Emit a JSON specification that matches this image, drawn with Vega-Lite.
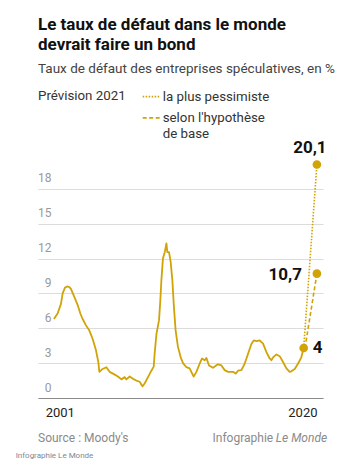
{
  "$schema": "https://vega.github.io/schema/vega-lite/v6.json",
  "autosize": "none",
  "width": 285,
  "height": 244,
  "padding": {"left": 38, "top": 154, "right": 35, "bottom": 70},
  "background": "white",
  "config": {
    "font": "Roboto",
    "view": {"stroke": null}
  },
  "title": {
    "text": ["Le taux de défaut dans le monde", "devrait faire un bond"],
    "subtitle": "Taux de défaut des entreprises spéculatives, en %",
    "anchor": "start",
    "frame": "group",
    "fontSize": 17,
    "fontWeight": "bold",
    "color": "#111111",
    "lineHeight": 20,
    "subtitleFontSize": 13.5,
    "subtitleColor": "#444444",
    "subtitlePadding": 8,
    "offset": 12
  },
  "datasets": {
    "hist": [
      {"t": 2001.00, "v": 6.8}, {"t": 2001.29, "v": 7.3}, {"t": 2001.54, "v": 8.1}, {"t": 2001.67, "v": 9.0},
      {"t": 2001.85, "v": 9.5}, {"t": 2002.02, "v": 9.6}, {"t": 2002.19, "v": 9.55}, {"t": 2002.31, "v": 9.4},
      {"t": 2002.57, "v": 8.7}, {"t": 2002.83, "v": 8.0}, {"t": 2003.04, "v": 7.25}, {"t": 2003.21, "v": 6.8},
      {"t": 2003.47, "v": 6.25}, {"t": 2003.73, "v": 5.8}, {"t": 2003.98, "v": 5.1}, {"t": 2004.24, "v": 4.1},
      {"t": 2004.42, "v": 3.1}, {"t": 2004.50, "v": 2.25}, {"t": 2004.75, "v": 2.5}, {"t": 2005.04, "v": 2.65},
      {"t": 2005.29, "v": 2.25}, {"t": 2005.55, "v": 2.1}, {"t": 2005.93, "v": 1.85}, {"t": 2006.20, "v": 1.6},
      {"t": 2006.45, "v": 1.8}, {"t": 2006.58, "v": 1.6}, {"t": 2006.84, "v": 1.85}, {"t": 2007.09, "v": 1.65},
      {"t": 2007.35, "v": 1.5}, {"t": 2007.61, "v": 1.4}, {"t": 2007.82, "v": 1.0}, {"t": 2007.99, "v": 1.25},
      {"t": 2008.25, "v": 1.8}, {"t": 2008.51, "v": 2.35}, {"t": 2008.69, "v": 2.7}, {"t": 2008.76, "v": 3.8},
      {"t": 2008.90, "v": 5.5}, {"t": 2009.10, "v": 6.7}, {"t": 2009.20, "v": 8.4}, {"t": 2009.28, "v": 10.1},
      {"t": 2009.40, "v": 12.0}, {"t": 2009.54, "v": 12.55}, {"t": 2009.67, "v": 13.3}, {"t": 2009.74, "v": 12.55},
      {"t": 2009.87, "v": 12.55}, {"t": 2010.00, "v": 11.7}, {"t": 2010.13, "v": 10.1}, {"t": 2010.25, "v": 7.8},
      {"t": 2010.38, "v": 5.8}, {"t": 2010.56, "v": 4.4}, {"t": 2010.77, "v": 3.5}, {"t": 2010.95, "v": 3.0},
      {"t": 2011.21, "v": 2.65}, {"t": 2011.46, "v": 2.55}, {"t": 2011.72, "v": 1.95}, {"t": 2011.77, "v": 1.85},
      {"t": 2011.98, "v": 2.25}, {"t": 2012.23, "v": 2.95}, {"t": 2012.41, "v": 3.4}, {"t": 2012.62, "v": 3.25},
      {"t": 2012.75, "v": 3.45}, {"t": 2012.95, "v": 2.8}, {"t": 2013.26, "v": 2.6}, {"t": 2013.64, "v": 2.9},
      {"t": 2013.91, "v": 2.8}, {"t": 2014.16, "v": 2.4}, {"t": 2014.42, "v": 2.25}, {"t": 2014.80, "v": 2.25},
      {"t": 2015.01, "v": 2.1}, {"t": 2015.19, "v": 2.35}, {"t": 2015.45, "v": 2.4}, {"t": 2015.70, "v": 2.95},
      {"t": 2015.96, "v": 3.8}, {"t": 2016.22, "v": 4.65}, {"t": 2016.40, "v": 4.95}, {"t": 2016.61, "v": 4.9},
      {"t": 2016.86, "v": 4.95}, {"t": 2017.11, "v": 4.7}, {"t": 2017.38, "v": 3.95}, {"t": 2017.63, "v": 3.4},
      {"t": 2017.76, "v": 3.25}, {"t": 2017.89, "v": 3.5}, {"t": 2018.15, "v": 3.75}, {"t": 2018.40, "v": 3.6},
      {"t": 2018.66, "v": 3.1}, {"t": 2018.92, "v": 2.55}, {"t": 2019.17, "v": 2.25}, {"t": 2019.30, "v": 2.3},
      {"t": 2019.56, "v": 2.5}, {"t": 2019.81, "v": 2.95}, {"t": 2020.07, "v": 3.5}, {"t": 2020.25, "v": 4.3}
    ],
    "prev": [
      {"scenario": "la plus pessimiste", "t": 2020.25, "v": 4.3},
      {"scenario": "la plus pessimiste", "t": 2021.27, "v": 20.1},
      {"scenario": "selon l'hypothèse de base", "t": 2020.35, "v": 4.3},
      {"scenario": "selon l'hypothèse de base", "t": 2021.27, "v": 10.7}
    ],
    "points": [
      {"t": 2020.25, "v": 4.3, "label": "4"},
      {"t": 2021.27, "v": 10.7, "label": "10,7"},
      {"t": 2021.27, "v": 20.1, "label": "20,1"}
    ]
  },
  "encoding": {
    "x": {
      "field": "t", "type": "quantitative",
      "scale": {"domain": [1999.77, 2021.74], "nice": false, "zero": false},
      "axis": {
        "values": [2001.45, 2020.15],
        "labelExpr": "datum.value < 2010 ? '2001' : '2020'",
        "title": null, "grid": false, "ticks": false,
        "domainColor": "#8a8a8a", "domainWidth": 1,
        "labelFontSize": 13, "labelColor": "#222222", "labelPadding": 8,
        "labelFlush": false
      }
    },
    "y": {
      "field": "v", "type": "quantitative",
      "scale": {"domain": [0, 21], "nice": false},
      "axis": {
        "values": [0, 3, 6, 9, 12, 15, 18],
        "title": null, "domain": false, "ticks": false,
        "grid": true, "gridColor": "#dcdcdc", "gridWidth": 1,
        "labelAlign": "right", "labelBaseline": "alphabetic",
        "labelPadding": -13, "labelOffset": -7,
        "labelFontSize": 12, "labelColor": "#9a9a9a"
      }
    }
  },
  "layer": [
    {
      "data": {"name": "hist"},
      "mark": {"type": "line", "color": "#d1a306", "strokeWidth": 1.8, "strokeJoin": "round"}
    },
    {
      "data": {"name": "prev"},
      "mark": {"type": "line", "color": "#d1a306", "strokeWidth": 1.6},
      "encoding": {
        "detail": {"field": "scenario"},
        "strokeDash": {
          "field": "scenario", "type": "nominal",
          "scale": {"domain": ["la plus pessimiste", "selon l'hypothèse de base"], "range": [[1.5, 1.5], [4, 2.5]]},
          "legend": null
        }
      }
    },
    {
      "data": {"name": "points"},
      "mark": {"type": "circle", "color": "#d1a306", "opacity": 1, "size": 75}
    },
    {
      "data": {"name": "points"},
      "transform": [{"filter": "datum.label == '20,1'"}],
      "mark": {"type": "text", "align": "center", "baseline": "middle", "dx": -7, "dy": -16, "fontSize": 17, "fontWeight": "bold", "color": "#111111"},
      "encoding": {"text": {"field": "label"}}
    },
    {
      "data": {"name": "points"},
      "transform": [{"filter": "datum.label == '10,7'"}],
      "mark": {"type": "text", "align": "right", "baseline": "middle", "dx": -15, "dy": 1, "fontSize": 17, "fontWeight": "bold", "color": "#111111"},
      "encoding": {"text": {"field": "label"}}
    },
    {
      "data": {"name": "points"},
      "transform": [{"filter": "datum.label == '4'"}],
      "mark": {"type": "text", "align": "left", "baseline": "middle", "dx": 9, "dy": 0, "fontSize": 17, "fontWeight": "bold", "color": "#111111"},
      "encoding": {"text": {"field": "label"}}
    },
    {
      "data": {"values": [{"scenario": "la plus pessimiste", "x1": 2007.84, "x2": 2009.15, "y": 25.94}, {"scenario": "selon l'hypothèse de base", "x1": 2007.84, "x2": 2009.15, "y": 24.11}]},
      "mark": {"type": "rule", "color": "#d1a306", "strokeWidth": 1.6},
      "encoding": {
        "x": {"field": "x1", "type": "quantitative"},
        "x2": {"field": "x2"},
        "y": {"field": "y", "type": "quantitative"},
        "strokeDash": {"field": "scenario", "type": "nominal", "legend": null}
      }
    },
    {
      "data": {"values": [{"label": "Prévision 2021", "x": 1999.77, "y": 26.0}, {"label": "la plus pessimiste", "x": 2009.38, "y": 25.94}, {"label": "selon l'hypothèse", "x": 2009.38, "y": 24.14}, {"label": "de base", "x": 2009.38, "y": 22.76}]},
      "mark": {"type": "text", "align": "left", "baseline": "middle", "fontSize": 13.3, "color": "#333333"},
      "encoding": {
        "x": {"field": "x", "type": "quantitative"},
        "y": {"field": "y", "type": "quantitative"},
        "text": {"field": "label"}
      }
    },
    {
      "data": {"values": [{"label": "Source : Moody's", "x": 1999.77, "y": -3.4}]},
      "mark": {"type": "text", "align": "left", "baseline": "middle", "fontSize": 12, "color": "#8a8a8a"},
      "encoding": {
        "x": {"field": "x", "type": "quantitative"},
        "y": {"field": "y", "type": "quantitative"},
        "text": {"field": "label"}
      }
    },
    {
      "data": {"values": [{"label": "Infographie", "x": 2017.9, "y": -3.4}]},
      "mark": {"type": "text", "align": "right", "baseline": "middle", "fontSize": 12, "color": "#8a8a8a"},
      "encoding": {
        "x": {"field": "x", "type": "quantitative"},
        "y": {"field": "y", "type": "quantitative"},
        "text": {"field": "label"}
      }
    },
    {
      "data": {"values": [{"label": "Le Monde", "x": 2018.1, "y": -3.4}]},
      "mark": {"type": "text", "align": "left", "baseline": "middle", "fontSize": 12, "fontStyle": "italic", "color": "#8a8a8a"},
      "encoding": {
        "x": {"field": "x", "type": "quantitative"},
        "y": {"field": "y", "type": "quantitative"},
        "text": {"field": "label"}
      }
    },
    {
      "data": {"values": [{"label": "Infographie Le Monde", "x": 1998.05, "y": -5.0}]},
      "mark": {"type": "text", "align": "left", "baseline": "middle", "fontSize": 8, "color": "#7d8796"},
      "encoding": {
        "x": {"field": "x", "type": "quantitative"},
        "y": {"field": "y", "type": "quantitative"},
        "text": {"field": "label"}
      }
    }
  ]
}
